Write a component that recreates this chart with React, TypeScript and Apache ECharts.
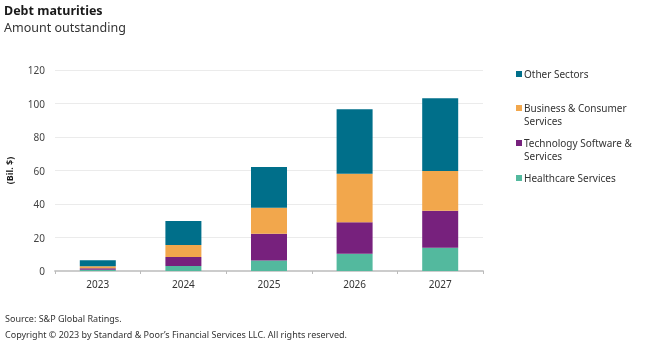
import React, { useEffect, useRef } from "react";
import * as echarts from "echarts";

const years = ["2023", "2024", "2025", "2026", "2027"];
const healthcare = [0.7, 3.0, 6.2, 10.3, 13.9];
const technology = [0.9, 5.4, 16.1, 18.8, 22.1];
const business = [1.2, 7.1, 15.5, 29.0, 23.7];
const otherSectors = [3.6, 14.4, 24.3, 38.4, 43.4];
const yTicks = { min: 0, max: 120, interval: 20 };

const seriesNames = [
  "Healthcare Services",
  "Technology Software &\nServices",
  "Business & Consumer\nServices",
  "Other Sectors",
];
const seriesColors = ["#53b99e", "#77217d", "#f2a74c", "#006f8a"];
const seriesData = [healthcare, technology, business, otherSectors];

const FONT = "'Noto Sans', 'Open Sans', sans-serif";

export default function App() {
  const ref = useRef<HTMLDivElement>(null);
  useEffect(() => {
    if (!ref.current) return;
    const chart = echarts.init(ref.current, undefined, { renderer: "svg" });
    const legendOrder = [3, 2, 1, 0];
    const legendTops = [71, 105, 140, 175];
    const legendGraphics: any[] = [];
    legendOrder.forEach((si, i) => {
      const y = legendTops[i];
      legendGraphics.push({
        type: "rect",
        shape: { x: 516, y, width: 6, height: 6 },
        style: { fill: seriesColors[si] },
      });
      legendGraphics.push({
        type: "text",
        x: 524,
        y: y - 3.5,
        style: {
          text: seriesNames[si],
          fontSize: 10,
          lineHeight: 13,
          fill: "#333333",
          fontFamily: FONT,
          verticalAlign: "top",
        },
      });
    });
    chart.setOption({
      animation: false,
      textStyle: { fontFamily: FONT },
      title: [
        {
          text: "Debt maturities",
          subtext: "Amount outstanding",
          left: 4,
          top: 4,
          padding: 0,
          itemGap: 4,
          textStyle: { fontSize: 12.5, fontWeight: "bold", color: "#1a1a1a", fontFamily: FONT },
          subtextStyle: { fontSize: 12.5, color: "#333333", fontFamily: FONT },
        },
      ],
      graphic: [
        {
          type: "text",
          x: 5,
          y: 314,
          style: {
            text: "Source: S&P Global Ratings.",
            fontSize: 9,
            fill: "#333333",
            fontFamily: FONT,
          },
        },
        {
          type: "text",
          x: 5,
          y: 330,
          style: {
            text: "Copyright \u00A9 2023 by Standard & Poor\u2019s Financial Services LLC. All rights reserved.",
            fontSize: 9,
            fill: "#333333",
            fontFamily: FONT,
          },
        },
        ...legendGraphics,
      ],
      grid: {
        left: 55,
        right: 178,
        top: 70,
        bottom: 81,
        containLabel: false,
        outerBoundsMode: "none",
      },
      xAxis: {
        type: "category",
        data: years,
        axisLine: { lineStyle: { color: "#cccccc", width: 2 } },
        axisTick: { show: true, length: 3, lineStyle: { color: "#bbbbbb" } },
        axisLabel: { fontSize: 10, color: "#333333", margin: 8 },
      },
      yAxis: {
        type: "value",
        min: yTicks.min,
        max: yTicks.max,
        interval: yTicks.interval,
        name: "(Bil. $)",
        nameLocation: "middle",
        nameGap: 41,
        nameRotate: 90,
        nameTextStyle: { fontSize: 9, fontWeight: "bold", color: "#1a1a1a" },
        axisLine: { show: false },
        axisTick: { show: false },
        axisLabel: { fontSize: 10, color: "#444444", margin: 10 },
        splitLine: { lineStyle: { color: "#ebebeb", width: 1 } },
      },
      series: seriesNames.map((name, i) => ({
        name,
        type: "bar",
        stack: "total",
        data: seriesData[i],
        barWidth: 36,
        itemStyle: { color: seriesColors[i] },
      })),
    });
    return () => chart.dispose();
  }, []);
  return (
    <div
      ref={ref}
      style={{ position: "fixed", left: 0, top: 0, width: 661, height: 352 }}
    />
  );
}
